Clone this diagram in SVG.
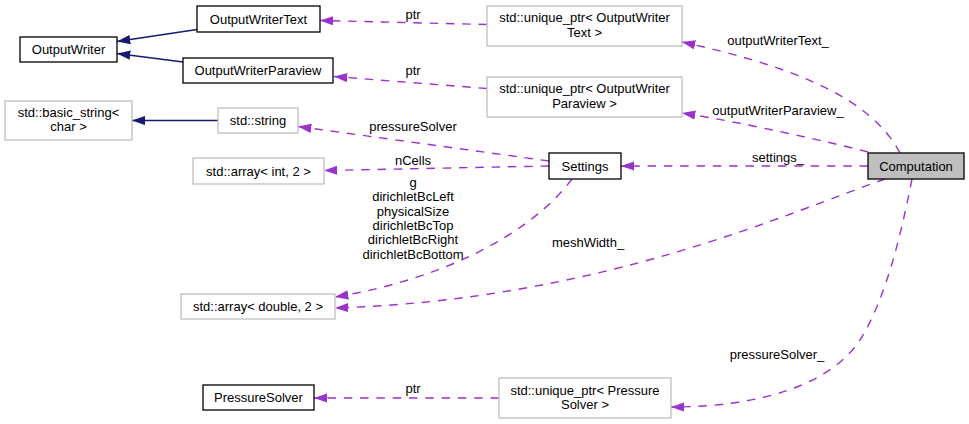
<svg xmlns="http://www.w3.org/2000/svg" width="969" height="424" viewBox="0 0 969 424">
<style>
text{font-family:"Liberation Sans",Arial,sans-serif;font-size:13px;fill:#000;text-anchor:middle}
.nb{fill:#fff;stroke:#000;stroke-width:1.3}
.ng{fill:#fff;stroke:#bfbfbf;stroke-width:1.3}
.nc{fill:#bfbfbf;stroke:#000;stroke-width:1.3}
.inh{fill:none;stroke:#191970;stroke-width:1.4}
.use{fill:none;stroke:#9a32cd;stroke-width:1.4;stroke-dasharray:8.5,7.8}
</style>
<defs>
<marker id="ab" markerUnits="userSpaceOnUse" markerWidth="14" markerHeight="10" viewBox="0 0 14 10" refX="13.3" refY="4.65" orient="auto"><path d="M0,0 L13.3,4.65 L0,9.3 z" fill="#191970"/></marker>
<marker id="ap" markerUnits="userSpaceOnUse" markerWidth="14" markerHeight="10" viewBox="0 0 14 10" refX="13.3" refY="4.65" orient="auto"><path d="M0,0 L13.3,4.65 L0,9.3 z" fill="#9a32cd"/></marker>
</defs>
<rect width="969" height="424" fill="#fff"/>
<g id="connectors">
<path class="inh" d="M197,29.5 L117,41.5" marker-end="url(#ab)"/>
<path class="inh" d="M183,62 L117,53.5" marker-end="url(#ab)"/>
<path class="inh" d="M218,120.5 L132,120.5" marker-end="url(#ab)"/>
<path class="use" d="M487,24.5 L320,20.5" marker-end="url(#ap)"/>
<text x="413" y="19">ptr</text>
<path class="use" d="M487,88.5 L334,76.5" marker-end="url(#ap)"/>
<text x="413" y="75">ptr</text>
<path class="use" d="M549,161 L298,126.5" marker-end="url(#ap)"/>
<text x="413" y="131">pressureSolver</text>
<path class="use" d="M549,166 L324,170.5" marker-end="url(#ap)"/>
<text x="413" y="165">nCells</text>
<path class="use" d="M572,179 C530,235 440,280 335,297" marker-end="url(#ap)"/>
<text x="413" y="186.7">g</text>
<text x="413" y="201.1">dirichletBcLeft</text>
<text x="413" y="215.5">physicalSize</text>
<text x="413" y="229.9">dirichletBcTop</text>
<text x="413" y="244.3">dirichletBcRight</text>
<text x="413" y="258.7">dirichletBcBottom</text>
<path class="use" d="M900,153 C872,100 800,68 682,42" marker-end="url(#ap)"/>
<text x="778" y="45">outputWriterText_</text>
<path class="use" d="M868,152 C830,142 740,122 682,113" marker-end="url(#ap)"/>
<text x="778" y="115">outputWriterParaview_</text>
<path class="use" d="M868,166 L621,166" marker-end="url(#ap)"/>
<text x="778" y="161.5">settings_</text>
<path class="use" d="M885,179 C790,212 600,300 335,308" marker-end="url(#ap)"/>
<text x="588" y="247">meshWidth_</text>
<path class="use" d="M912,179 C900,240 885,300 860,340 C830,385 760,407 671,407" marker-end="url(#ap)"/>
<text x="777" y="359">pressureSolver_</text>
<path class="use" d="M499,398 L314,398" marker-end="url(#ap)"/>
<text x="413" y="393">ptr</text>
</g>
<g id="OutputWriter"><rect class="nb" x="20" y="37" width="97" height="25"/><text x="68.5" y="54">OutputWriter</text></g>
<g id="OutputWriterText"><rect class="nb" x="197" y="6" width="123" height="26"/><text x="258.5" y="23.5">OutputWriterText</text></g>
<g id="OutputWriterParaview"><rect class="nb" x="183" y="58" width="150" height="25"/><text x="258" y="74.5">OutputWriterParaview</text></g>
<g id="basic_string"><rect class="ng" x="5" y="101" width="127" height="39"/><text x="68.5" y="117">std::basic_string&lt;</text><text x="68.5" y="131">char &gt;</text></g>
<g id="string"><rect class="ng" x="218" y="108" width="80" height="25"/><text x="258" y="125">std::string</text></g>
<g id="array_int"><rect class="ng" x="193" y="158" width="131" height="26"/><text x="258.5" y="175.5">std::array&lt; int, 2 &gt;</text></g>
<g id="uptr_text"><rect class="ng" x="487" y="6" width="195" height="40"/><text x="584.5" y="22">std::unique_ptr&lt; OutputWriter</text><text x="584.5" y="36.5">Text &gt;</text></g>
<g id="uptr_paraview"><rect class="ng" x="487" y="77" width="195" height="40"/><text x="584.5" y="93">std::unique_ptr&lt; OutputWriter</text><text x="584.5" y="107.5">Paraview &gt;</text></g>
<g id="Settings"><rect class="nb" x="549" y="153" width="72" height="26"/><text x="585" y="170.5">Settings</text></g>
<g id="Computation"><rect class="nc" x="868" y="153" width="96" height="26"/><text x="916" y="170.5">Computation</text></g>
<g id="array_double"><rect class="ng" x="181" y="294" width="154" height="25"/><text x="258" y="311">std::array&lt; double, 2 &gt;</text></g>
<g id="PressureSolver"><rect class="nb" x="203" y="385" width="111" height="25"/><text x="258.5" y="402">PressureSolver</text></g>
<g id="uptr_pressure"><rect class="ng" x="499" y="378" width="172" height="40"/><text x="585" y="394.5">std::unique_ptr&lt; Pressure</text><text x="585" y="408.5">Solver &gt;</text></g>
</svg>
